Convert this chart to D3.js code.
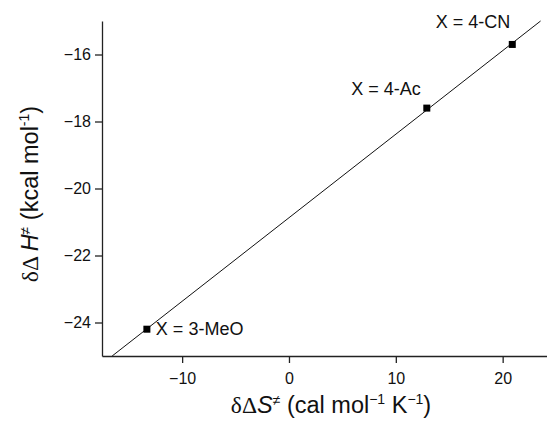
<!DOCTYPE html>
<html>
<head>
<meta charset="utf-8">
<script src="https://cdn.jsdelivr.net/npm/d3@7"></script>
<style>
  body { margin: 0; background: #fff; }
  text { font-family: "Liberation Sans", Arial, sans-serif; fill: #111; }
  .axis path, .axis line { stroke: #222; stroke-width: 1.3; }
  .axis text { font-size: 16px; }
</style>
</head>
<body>
<div id="chart"></div>
<script>
// measured points (delta-delta S vs delta-delta H)
const labels = ["X = 3-MeO", "X = 4-Ac", "X = 4-CN"];
const dS = [-13.3, 12.9, 20.9];
const dH = [-24.2, -17.6, -15.7];

// fitted line end points
const fitS = [-16.55, 23.55];
const fitH = [-25, -15];

const xTicks = [-10, 0, 10, 20];
const yTicks = [-24, -22, -20, -18, -16];

// svg setup
const width = 547, height = 423;
const margin = { top: 21, right: 0, bottom: 67, left: 102 };

const svg = d3.select("#chart")
    .append("svg")
    .attr("width", width)
    .attr("height", height);

// scales
const x = d3.scaleLinear()
    .domain([-17.5, 24.15])
    .range([margin.left, width - margin.right]);
const y = d3.scaleLinear()
    .domain([-25, -15])
    .range([height - margin.bottom, margin.top]);

// axes
svg.append("g")
    .attr("class", "axis")
    .attr("transform", `translate(0,${height - margin.bottom})`)
    .call(d3.axisBottom(x).tickValues(xTicks).tickSize(7).tickSizeOuter(0).tickPadding(10));

svg.append("g")
    .attr("class", "axis")
    .attr("transform", `translate(${margin.left},0)`)
    .call(d3.axisLeft(y).tickValues(yTicks).tickSize(7).tickSizeOuter(0).tickPadding(4));

// fit line
const pts = fitS.map((s, i) => ({ s: s, h: fitH[i] }));
svg.append("path")
    .datum(pts)
    .attr("fill", "none")
    .attr("stroke", "#111")
    .attr("stroke-width", 1)
    .attr("d", d3.line().x(d => x(d.s)).y(d => y(d.h)));

// square markers
const data = labels.map((l, i) => ({ label: l, s: dS[i], h: dH[i] }));
const sz = 7;
svg.selectAll("rect.pt")
    .data(data)
    .enter()
    .append("rect")
    .attr("class", "pt")
    .attr("x", d => x(d.s) - sz / 2)
    .attr("y", d => y(d.h) - sz / 2)
    .attr("width", sz)
    .attr("height", sz)
    .attr("fill", "#000");

// point labels
const offs = [
    { dx: 9, dy: 6, anchor: "start" },
    { dx: -6, dy: -13, anchor: "end" },
    { dx: -2, dy: -16, anchor: "end" }
];
svg.selectAll("text.lbl")
    .data(data)
    .enter()
    .append("text")
    .attr("class", "lbl")
    .attr("x", (d, i) => x(d.s) + offs[i].dx)
    .attr("y", (d, i) => y(d.h) + offs[i].dy)
    .attr("text-anchor", (d, i) => offs[i].anchor)
    .style("font-size", "18px")
    .text(d => d.label);

// x axis title
const xt = svg.append("text")
    .attr("x", 331)
    .attr("y", 413)
    .attr("text-anchor", "middle")
    .style("font-size", "23.5px");
xt.append("tspan").style("font-family", "'Liberation Serif', serif").text("δΔ");
xt.append("tspan").style("font-style", "italic").text("S");
xt.append("tspan").attr("dy", -8).style("font-size", "14px").text("≠");
xt.append("tspan").attr("dy", 8).text(" (cal mol");
xt.append("tspan").attr("dy", -9).style("font-size", "14px").text("−1");
xt.append("tspan").attr("dy", 9).text(" K");
xt.append("tspan").attr("dy", -9).style("font-size", "14px").text("−1");
xt.append("tspan").attr("dy", 9).text(")");

// y axis title
const yt = svg.append("text")
    .attr("transform", "rotate(-90)")
    .attr("x", -194)
    .attr("y", 38)
    .attr("text-anchor", "middle")
    .style("font-size", "23.5px");
yt.append("tspan").style("font-family", "'Liberation Serif', serif").text("δΔ ");
yt.append("tspan").style("font-style", "italic").text("H");
yt.append("tspan").attr("dy", -8).style("font-size", "14px").text("≠");
yt.append("tspan").attr("dy", 8).text(" (kcal mol");
yt.append("tspan").attr("dy", -9).style("font-size", "14px").text("-1");
yt.append("tspan").attr("dy", 9).text(")");
</script>
</body>
</html>
